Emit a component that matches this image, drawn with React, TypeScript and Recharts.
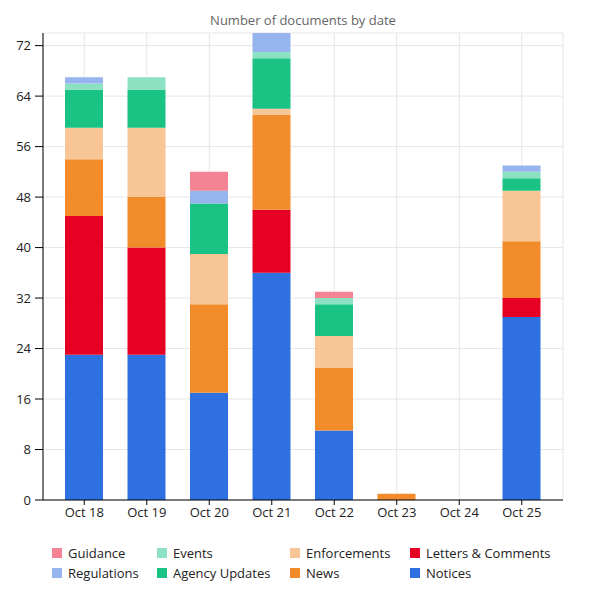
import React from 'react';
import { BarChart, Bar, XAxis, YAxis, CartesianGrid } from 'recharts';

const dates = ['Oct 18', 'Oct 19', 'Oct 20', 'Oct 21', 'Oct 22', 'Oct 23', 'Oct 24', 'Oct 25'];
const notices = [23, 23, 17, 36, 11, 0, 0, 29];
const letters = [22, 17, 0, 10, 0, 0, 0, 3];
const news = [9, 8, 14, 15, 10, 1, 0, 9];
const enforcements = [5, 11, 8, 1, 5, 0, 0, 8];
const agencyUpdates = [6, 6, 8, 8, 5, 0, 0, 2];
const events = [1, 2, 0, 1, 1, 0, 0, 1];
const regulations = [1, 0, 2, 3, 0, 0, 0, 1];
const guidance = [0, 0, 3, 0, 1, 0, 0, 0];
const yTicks = [0, 8, 16, 24, 32, 40, 48, 56, 64, 72];

// stacking order, bottom first
const SERIES = [
  { key: 'notices', name: 'Notices', color: '#2e70e0', values: notices },
  { key: 'letters', name: 'Letters & Comments', color: '#e60023', values: letters },
  { key: 'news', name: 'News', color: '#f28b2a', values: news },
  { key: 'enforcements', name: 'Enforcements', color: '#f8c596', values: enforcements },
  { key: 'agencyUpdates', name: 'Agency Updates', color: '#1ac284', values: agencyUpdates },
  { key: 'events', name: 'Events', color: '#8de1c3', values: events },
  { key: 'regulations', name: 'Regulations', color: '#96b4ee', values: regulations },
  { key: 'guidance', name: 'Guidance', color: '#f48394', values: guidance },
];

const data = dates.map((date, i) => {
  const row: Record<string, string | number> = { date };
  SERIES.forEach((s) => {
    row[s.key] = s.values[i];
  });
  return row;
});

const FONT = '"Open Sans", sans-serif';

// legend: reversed series, filled column by column (2 rows)
const legendItems = [...SERIES].reverse();
const colWidths = [105, 133, 120, 160];

function ChartLegend() {
  const cols = [0, 1, 2, 3].map((c) => legendItems.slice(c * 2, c * 2 + 2));
  return (
    <div
      style={{
        position: 'absolute',
        left: 52,
        top: 543,
        display: 'flex',
        fontFamily: FONT,
        fontSize: 13,
        color: '#222',
        whiteSpace: 'nowrap',
      }}
    >
      {cols.map((col, ci) => (
        <div key={ci} style={{ width: colWidths[ci] }}>
          {col.map((s) => (
            <div key={s.key} style={{ display: 'flex', alignItems: 'center', height: 20 }}>
              <span style={{ width: 10, height: 10, background: s.color, marginRight: 6, display: 'inline-block' }} />
              <span>{s.name}</span>
            </div>
          ))}
        </div>
      ))}
    </div>
  );
}

export default function App() {
  return (
    <div style={{ position: 'absolute', left: 0, top: 0, width: 600, height: 600, background: '#fff' }}>
      <div
        style={{
          position: 'absolute',
          left: 43,
          width: 520,
          top: 11,
          textAlign: 'center',
          fontFamily: FONT,
          fontSize: 13,
          color: '#666',
        }}
      >
        Number of documents by date
      </div>
      <BarChart
        width={600}
        height={530}
        data={data}
        margin={{ top: 33, right: 37, left: 0, bottom: 0 }}
        style={{ fontFamily: FONT }}
      >
        <CartesianGrid stroke="#e6e6e6" />
        <XAxis
          dataKey="date"
          height={30}
          padding={{ left: 10, right: 10 }}
          tick={{ fill: '#222', fontSize: 13 }}
          tickSize={5}
          tickMargin={3}
          axisLine={{ stroke: '#000' }}
          tickLine={{ stroke: '#000' }}
        />
        <YAxis
          width={43}
          domain={[0, 74]}
          ticks={yTicks}
          allowDataOverflow
          tick={{ fill: '#222', fontSize: 13 }}
          tickSize={8}
          tickMargin={4}
          axisLine={{ stroke: '#000' }}
          tickLine={{ stroke: '#000' }}
        />
        {SERIES.map((s) => (
          <Bar
            key={s.key}
            dataKey={s.key}
            name={s.name}
            stackId="docs"
            fill={s.color}
            barSize={38}
            isAnimationActive={false}
          />
        ))}
      </BarChart>
      <ChartLegend />
    </div>
  );
}
